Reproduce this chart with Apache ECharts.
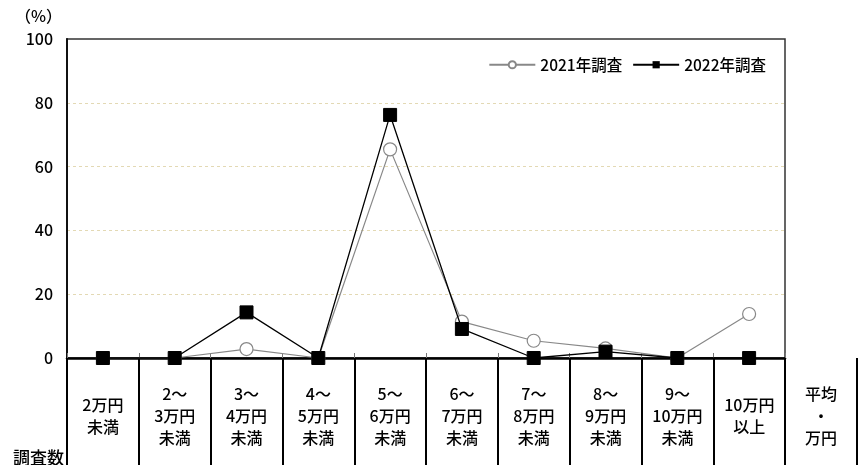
<!DOCTYPE html>
<html>
<head>
<meta charset="utf-8">
<script src="https://cdn.jsdelivr.net/npm/echarts@6/dist/echarts.min.js"></script>
<style>
html,body{margin:0;padding:0;background:#fff;}
#c{width:861px;height:465px;}
</style>
</head>
<body>
<div id="c"></div>
<script>
var categories = ['2万円\n未満','2～\n3万円\n未満','3～\n4万円\n未満','4～\n5万円\n未満','5～\n6万円\n未満','6～\n7万円\n未満','7～\n8万円\n未満','8～\n9万円\n未満','9～\n10万円\n未満','10万円\n以上'];
var extraColumn = '平均\n・\n万円';
var series2021 = [0, 0, 2.8, 0, 65.4, 11.4, 5.4, 3.0, 0, 13.8];
var series2022 = [0, 0, 14.3, 0, 76.2, 9.1, 0, 2.0, 0, 0];
var yTicks = {min: 0, max: 100, interval: 20};
var seriesNames = ['2021年調査', '2022年調査'];

var FONT = '"Noto Sans CJK JP", "Noto Sans", sans-serif';
var W = 500;
var tableCats = categories.concat([extraColumn]);

var chart = echarts.init(document.getElementById('c'));
chart.setOption({
  animation: false,
  textStyle: {fontFamily: FONT, color: '#000', fontWeight: W},
  title: [
    {text: '（%）', left: 10, top: 3, textStyle: {fontFamily: FONT, fontSize: 16, fontWeight: W, color: '#000'}},
    {text: '調査数', left: 8, top: 444, textStyle: {fontFamily: FONT, fontSize: 17, fontWeight: W, color: '#000'}}
  ],
  legend: {
    top: 52, right: 90,
    itemWidth: 46, itemHeight: 9, itemGap: 10,
    textStyle: {fontFamily: FONT, fontSize: 15.5, color: '#000', fontWeight: W},
    data: seriesNames
  },
  grid: [
    {left: 67, right: 76, top: 39, bottom: 107, show: true, borderColor: '#333', borderWidth: 1.5, backgroundColor: 'transparent'},
    {left: 67, right: 4, top: 358, bottom: 0}
  ],
  xAxis: [
    {
      type: 'category', gridIndex: 0, data: categories, boundaryGap: true,
      axisLine: {show: true, lineStyle: {color: '#000', width: 2.5}},
      axisTick: {show: true, inside: true, length: 5, lineStyle: {color: '#777'}},
      axisLabel: {show: false},
      splitLine: {show: false}
    },
    {
      type: 'category', gridIndex: 1, data: tableCats, boundaryGap: true, position: 'top',
      axisLine: {show: false},
      axisTick: {show: false},
      axisLabel: {show: true, inside: true, margin: 58, verticalAlign: 'middle', lineHeight: 22, fontSize: 16, color: '#000', fontFamily: FONT, fontWeight: W, interval: 0},
      splitLine: {show: true, interval: 0, lineStyle: {color: '#000', width: 2}}
    }
  ],
  yAxis: [
    {
      type: 'value', gridIndex: 0, min: yTicks.min, max: yTicks.max, interval: yTicks.interval,
      axisLine: {show: true, lineStyle: {color: '#111', width: 2}},
      axisTick: {show: false},
      axisLabel: {fontSize: 16, color: '#000', margin: 14, fontFamily: FONT, fontWeight: W},
      splitLine: {show: true, showMinLine: false, showMaxLine: false, lineStyle: {color: '#e3d9b4', type: [3, 3], width: 1}}
    },
    {type: 'value', gridIndex: 1, show: false, min: 0, max: 1}
  ],
  series: [
    {
      name: seriesNames[0], type: 'line', xAxisIndex: 0, yAxisIndex: 0, data: series2021,
      symbol: 'circle', symbolSize: 13,
      itemStyle: {color: '#fff', borderColor: '#888', borderWidth: 1.2},
      lineStyle: {color: '#888', width: 1.2},
      z: 3
    },
    {
      name: seriesNames[1], type: 'line', xAxisIndex: 0, yAxisIndex: 0, data: series2022,
      symbol: 'rect', symbolSize: 13,
      itemStyle: {color: '#000', borderColor: '#000'},
      lineStyle: {color: '#000', width: 1.3},
      z: 4
    }
  ]
});
</script>
</body>
</html>
